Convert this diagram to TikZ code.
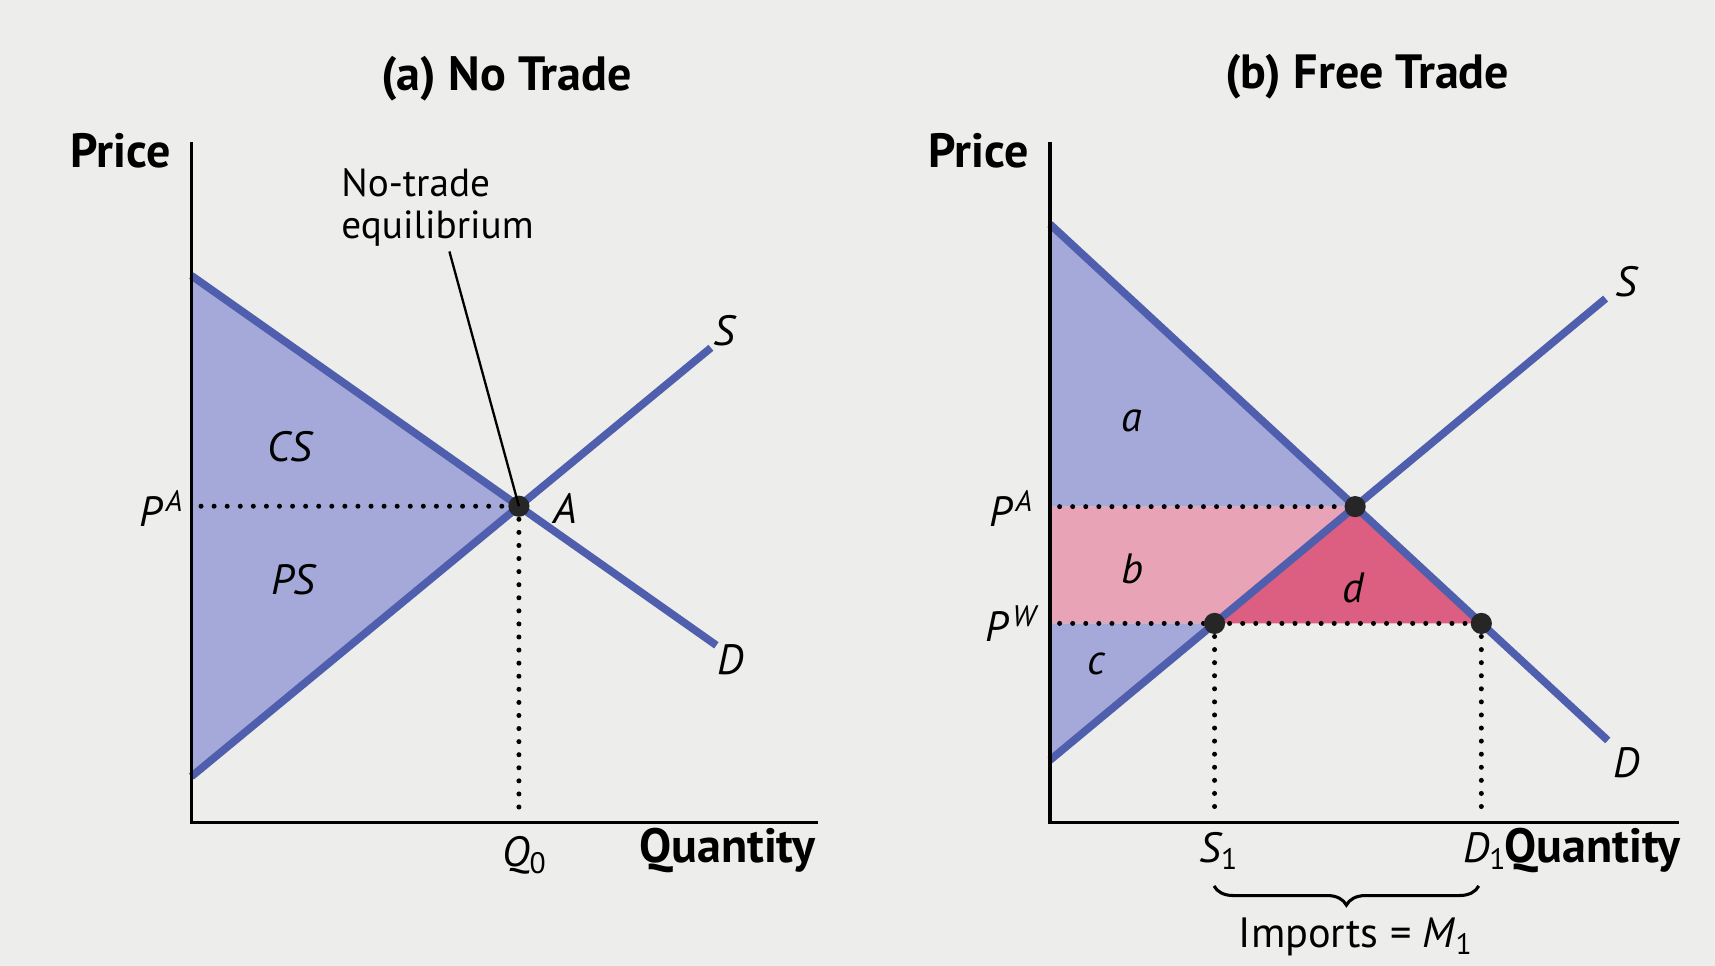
\documentclass[tikz,border=0pt]{standalone}
\usepackage{fontspec}
\setmainfont{PT Sans}
\usetikzlibrary{positioning,decorations.pathreplacing,calc}
\definecolor{curve}{HTML}{4F5FAE}
\definecolor{shadeblue}{HTML}{A5A9D9}
\definecolor{pinklt}{HTML}{E9A3B6}
\definecolor{pinkdk}{HTML}{DC5E80}
\definecolor{paper}{HTML}{EDEDEB}
\tikzset{
  ttl/.style={font=\fontsize{12.5}{14}\selectfont\bfseries},
  axlab/.style={font=\fontsize{12.5}{14}\selectfont\bfseries},
  lab/.style={font=\fontsize{11}{13}\selectfont\itshape,inner sep=1pt},
  note/.style={font=\fontsize{10.2}{11}\selectfont,align=left,inner sep=1pt},
  crv/.style={draw=curve,line width=2pt},
  ax/.style={draw=black,line width=0.8pt},
  dots/.style={line width=1.3pt,line cap=round,dash pattern=on 0pt off 3.4pt},
  eq/.style={circle,fill=black!85,inner sep=0pt,minimum size=5.5pt},
  brc/.style={decorate,decoration={brace,mirror,amplitude=5pt},line width=0.8pt},
}

\begin{document}
\begin{tikzpicture}[x=0.01cm,y=-0.01cm]
  \fill[paper] (0,0) rectangle (1568,883);
  \useasboundingbox (0,0) rectangle (1568,883);

  % (a) no trade
  \coordinate (ya) at (175,130);
  \coordinate (oa) at (175,752);
  \coordinate (xa) at (748,752);
  \coordinate (da0) at (175,252);
  \coordinate (da1) at (655,590);
  \coordinate (sa0) at (175,710);
  \coordinate (sa1) at (650,318);
  \coordinate (aa) at (intersection of da0--da1 and sa0--sa1);
  \coordinate (paa) at (175,0 |- aa);
  \coordinate (qa) at (aa |- oa);
  \fill[shadeblue] (da0) -- (aa) -- (sa0) -- cycle;
  \draw[crv] (da0) -- (da1);
  \draw[crv] (sa0) -- (sa1);
  \draw[ax] (ya) -- (oa) -- (xa);
  \draw[dots] ([xshift=2.5]paa) -- (aa);
  \draw[dots] (aa) -- ([yshift=3]qa);
  \node[eq] (eqa) at (aa) {};

  \node[ttl] (ttla) at (463,72) {(a) No Trade};
  \node[axlab] (pra) at (110,138) {Price};
  \node[axlab] (qua) at (665,778) {Quantity};
  \node[note] (ntq) at (400,190) {No-trade\\equilibrium};
  \draw[line width=0.6pt] (ntq) -- (eqa.center);
  \node[lab] at (265,408) {CS};
  \node[lab] at (268,530) {PS};
  \node[lab] at (662,302) {S};
  \node[lab] at (668,603) {D};
  \node[lab] at (517,465) {A};
  \node[lab] at (148,465) {P\kern1pt\textsuperscript{A}};
  \node[lab] at (480,782) {Q\textsubscript{\upshape 0}};

  % (b) free trade
  \coordinate (yb) at (960,130);
  \coordinate (ob) at (960,752);
  \coordinate (xb) at (1535,752);
  \coordinate (db0) at (960,205);
  \coordinate (db1) at (1470,677);
  \coordinate (sb0) at (960,695);
  \coordinate (sb1) at (1468,273);
  \coordinate (pw0) at (960,570);
  \coordinate (pw1) at (1500,570);
  \coordinate (ab) at (intersection of db0--db1 and sb0--sb1);
  \coordinate (s1) at (intersection of sb0--sb1 and pw0--pw1);
  \coordinate (d1) at (intersection of db0--db1 and pw0--pw1);
  \coordinate (pab) at (960,0 |- ab);
  \fill[shadeblue] (db0) -- (ab) -- (pab) -- cycle;
  \fill[pinklt] (pab) -- (ab) -- (s1) -- (pw0) -- cycle;
  \fill[pinkdk] (ab) -- (d1) -- (s1) -- cycle;
  \fill[shadeblue] (pw0) -- (s1) -- (sb0) -- cycle;
  \draw[crv] (db0) -- (db1);
  \draw[crv] (sb0) -- (sb1);
  \draw[ax] (yb) -- (ob) -- (xb);
  \draw[dots] ([xshift=2.5]pab) -- (ab);
  \draw[dots] ([xshift=2.5]pw0) -- (d1);
  \draw[dots] (s1) -- ([yshift=3]s1 |- ob);
  \draw[dots] (d1) -- ([yshift=3]d1 |- ob);
  \node[eq] (eqb) at (ab) {};
  \node[eq] (eqs) at (s1) {};
  \node[eq] (eqd) at (d1) {};

  \node[ttl] (ttlb) at (1250,70) {(b) Free Trade};
  \node[axlab] (prb) at (895,138) {Price};
  \node[axlab] (qub) at (1456,778) {Quantity};
  \node[lab] at (1035,385) {a};
  \node[lab] at (1035,520) {b};
  \node[lab] at (1002,607) {c};
  \node[lab] at (1237,538) {d};
  \node[lab] at (1487,258) {S};
  \node[lab] at (1487,697) {D};
  \node[lab] at (925,465) {P\kern1pt\textsuperscript{A}};
  \node[lab] at (925,570) {P\kern1pt\textsuperscript{W}};
  \node[lab] (s1l) at (1115,778) {S\textsubscript{\upshape 1}};
  \node[lab] (d1l) at (1358,778) {D\textsubscript{\upshape 1}};
  \coordinate (br0) at (1110,810);
  \coordinate (br1) at (1352,810);
  \draw[brc] (br0) -- (br1);
  \node[note,font=\fontsize{11}{13}\selectfont] (imp) at (1240,857) {Imports = \textit{M}\textsubscript{1}};
\end{tikzpicture}
\end{document}
